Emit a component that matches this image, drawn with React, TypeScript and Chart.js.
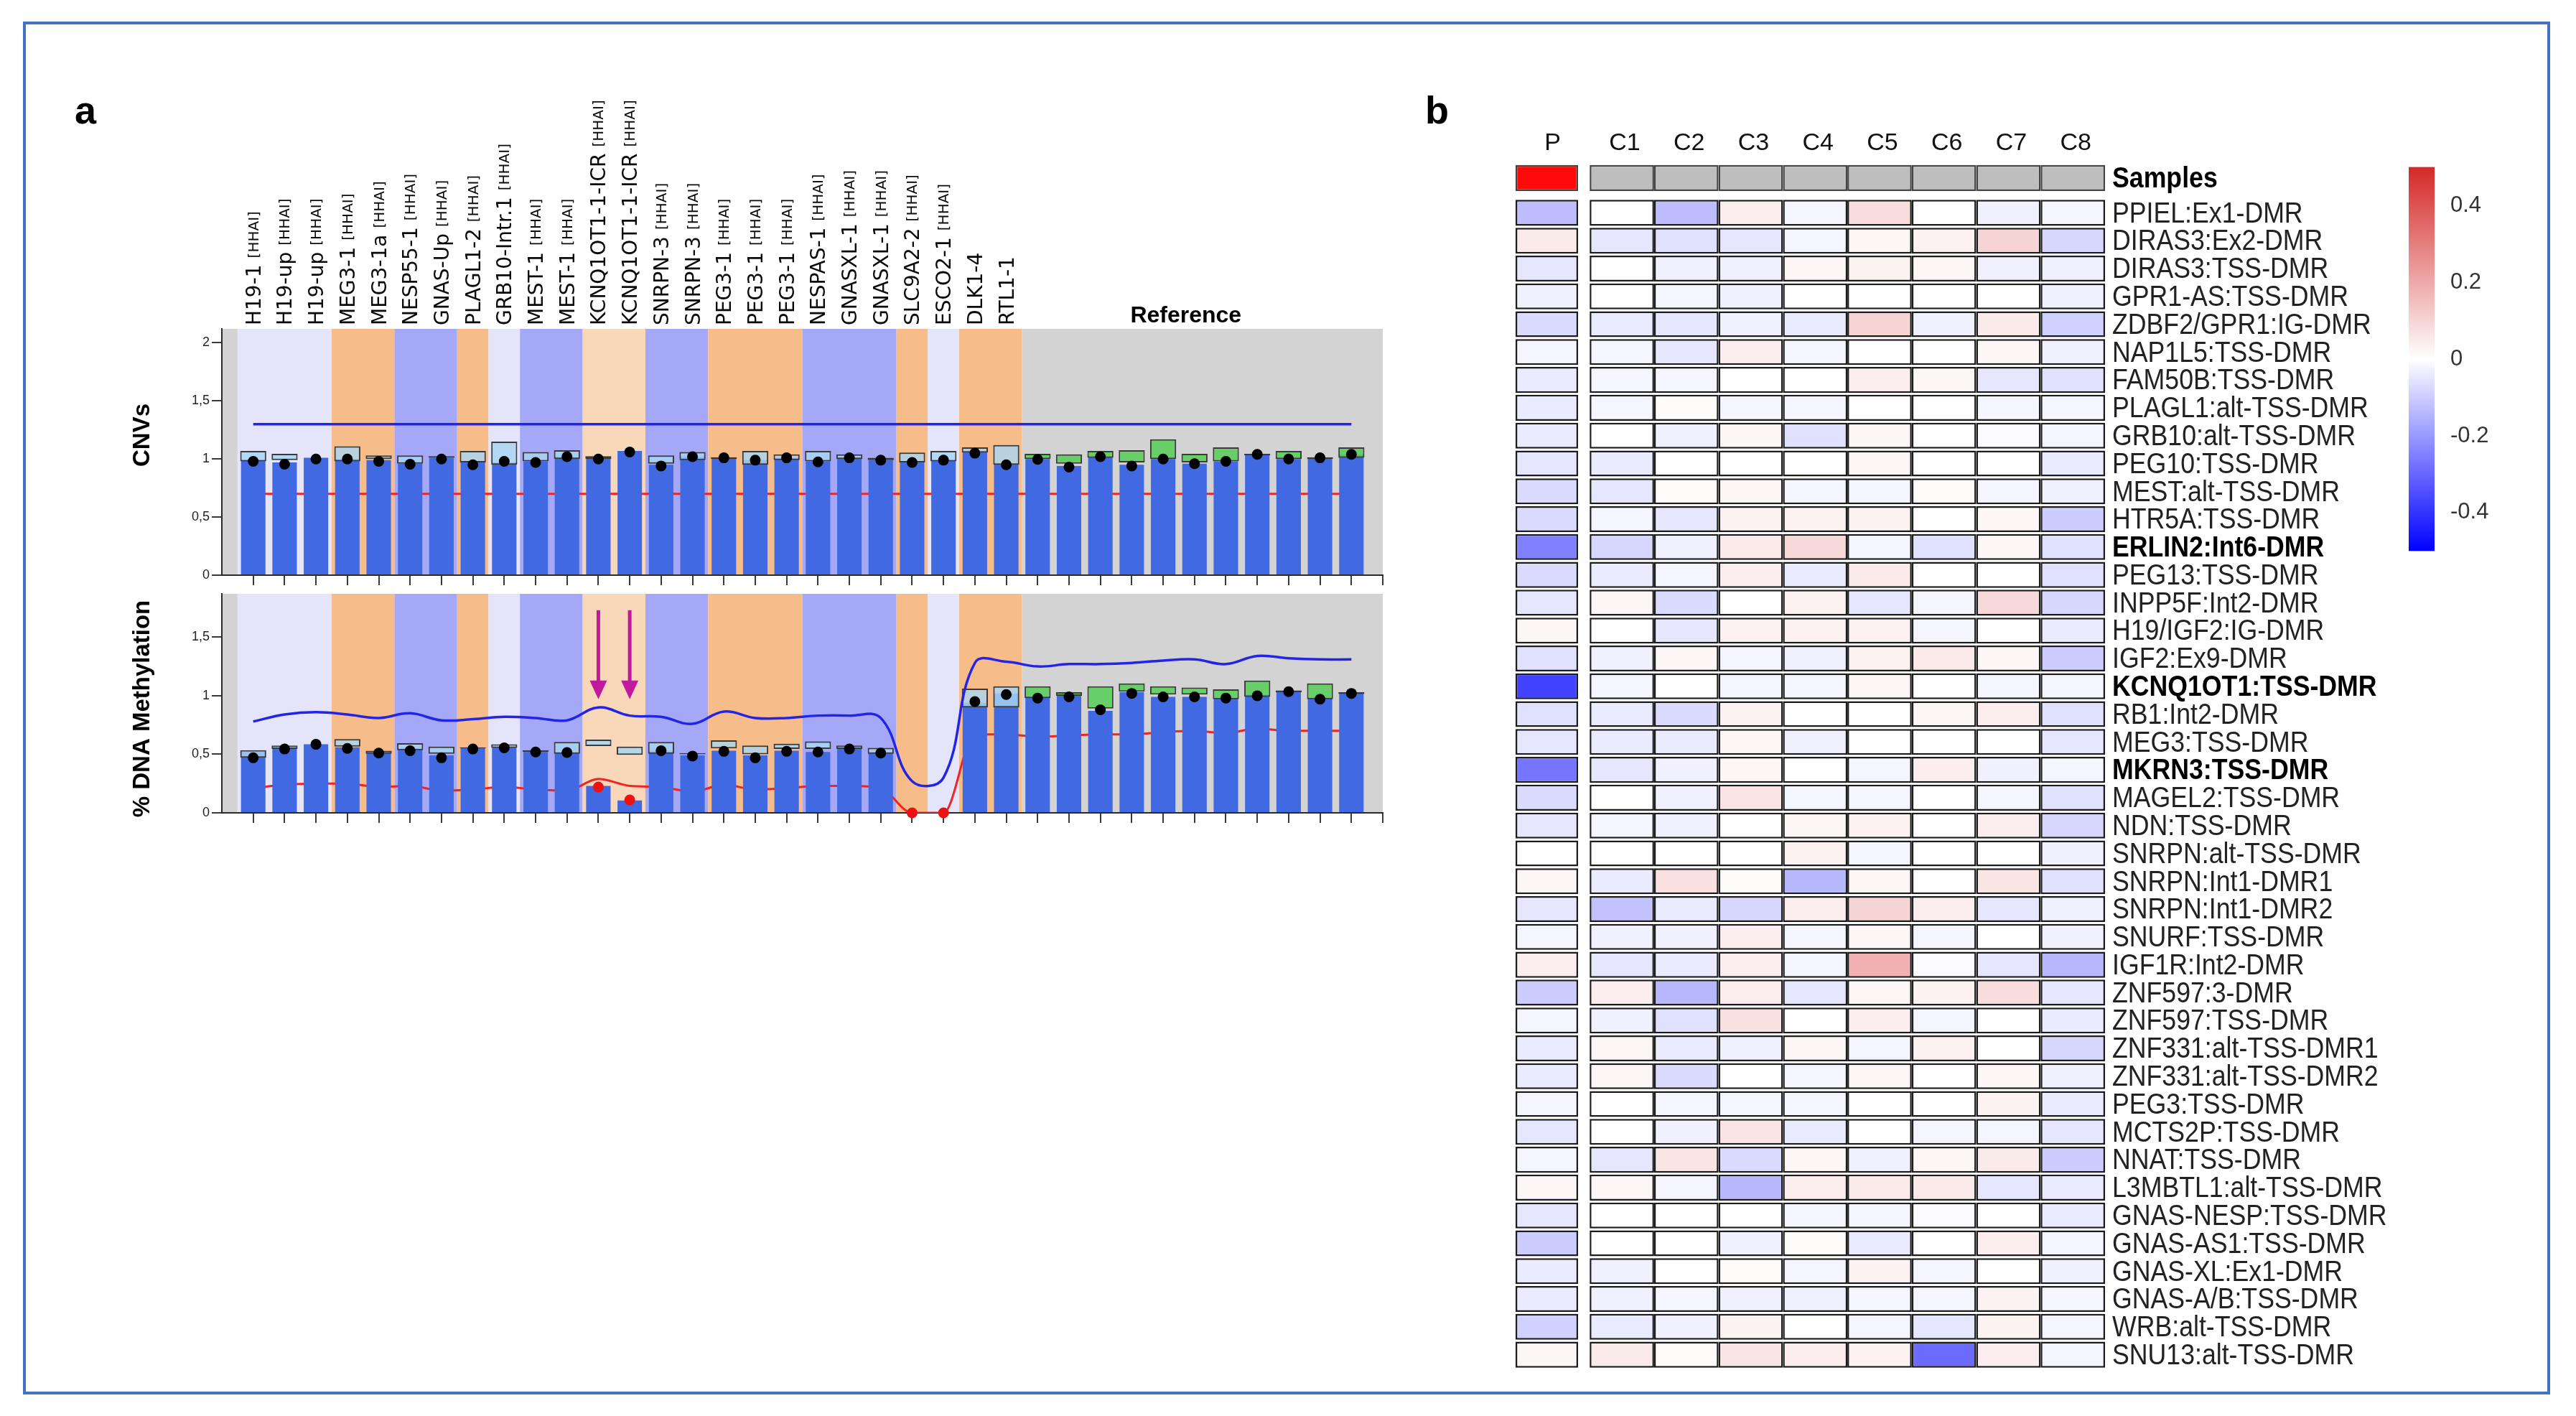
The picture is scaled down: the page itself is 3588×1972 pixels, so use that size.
import React, { useEffect, useRef } from 'react';
import { Chart, registerables } from 'chart.js';

Chart.register(...registerables);

const FONT = '"Liberation Sans", Arial, Helvetica, sans-serif';
const LABEL_FONT = '"DejaVu Sans", Verdana, sans-serif';

// ---------------- Panel a : probes ----------------
const probeLabels = [
  'H19-1', 'H19-up', 'H19-up', 'MEG3-1', 'MEG3-1a', 'NESP55-1', 'GNAS-Up', 'PLAGL1-2',
  'GRB10-Intr.1', 'MEST-1', 'MEST-1', 'KCNQ1OT1-1-ICR', 'KCNQ1OT1-1-ICR', 'SNRPN-3', 'SNRPN-3',
  'PEG3-1', 'PEG3-1', 'PEG3-1', 'NESPAS-1', 'GNASXL-1', 'GNASXL-1', 'SLC9A2-2', 'ESCO2-1',
  'DLK1-4', 'RTL1-1',
];
const probeHasHhai = [
  true, true, true, true, true, true, true, true, true, true, true, true, true, true, true,
  true, true, true, true, true, true, true, true, false, false,
];
const referenceProbeCount = 11;
const probeCount = probeLabels.length + referenceProbeCount;

// background bands (probe-index ranges) and their kind
const bandStart = [-1, -0.5, 2.5, 4.5, 6.5, 7.5, 8.5, 10.5, 12.5, 14.5, 17.5, 20.5, 21.5, 22.5, 24.5];
const bandEnd = [-0.5, 2.5, 4.5, 6.5, 7.5, 8.5, 10.5, 12.5, 14.5, 17.5, 20.5, 21.5, 22.5, 24.5, 36];
const bandKind = ['ref', 'lav', 'ora', 'blu', 'ora', 'lav', 'blu', 'pea', 'blu', 'ora', 'blu', 'ora', 'lav', 'ora', 'ref'];
const bandColors: Record<string, string> = {
  ref: '#d3d3d3', lav: '#e4e4fb', ora: '#f6bd8a', blu: '#a5a8f6', pea: '#f9d8b9',
};

// CNV panel
const cnvTicks = [0, 0.5, 1, 1.5, 2];
const CNV_MAX = 2.12;
const CNV_UPPER = 1.3;
const CNV_LOWER = 0.7;
const cnvRatio = [0.99, 0.97, 1.01, 1.0, 0.99, 0.96, 1.01, 0.97, 0.97, 0.98, 1.02, 1.01, 1.07, 0.95, 1.02, 1.01, 0.99, 1.01, 0.98, 1.01, 0.99, 0.98, 0.99, 1.06, 0.96, 1.0, 0.94, 1.02, 0.95, 1.0, 0.96, 0.98, 1.04, 1.0, 1.01, 1.04];
const cnvDot = [0.98, 0.955, 1.0, 1.0, 0.98, 0.955, 1.0, 0.95, 0.98, 0.97, 1.02, 1.0, 1.06, 0.94, 1.02, 1.01, 0.99, 1.01, 0.975, 1.01, 0.99, 0.97, 0.99, 1.05, 0.95, 0.997, 0.93, 1.02, 0.94, 1.0, 0.96, 0.98, 1.04, 1.0, 1.01, 1.04];
const cnvBoxLow = [0.98, 0.99, null, 0.98, 1.0, 0.96, 1.01, 0.97, 0.95, 0.98, 1.0, 1.0, null, 0.96, 0.99, 1.0, 0.95, 0.99, 0.98, 1.0, 0.99, 0.97, 0.98, 1.055, 0.95, 1.0, 0.96, 1.01, 0.97, 1.0, 0.97, 0.98, 1.03, 1.0, 1.0, 1.01];
const cnvBoxHigh = [1.07, 1.045, null, 1.11, 1.03, 1.03, 1.025, 1.07, 1.15, 1.06, 1.075, 1.025, null, 1.03, 1.06, 1.015, 1.07, 1.04, 1.07, 1.04, 1.01, 1.055, 1.07, 1.1, 1.12, 1.045, 1.04, 1.07, 1.075, 1.17, 1.045, 1.1, 1.045, 1.07, 1.015, 1.1];

// Methylation panel
const methTicks = [0, 0.5, 1, 1.5];
const METH_MAX = 1.87;
const methRatio = [0.52, 0.56, 0.585, 0.56, 0.51, 0.54, 0.49, 0.555, 0.56, 0.52, 0.51, 0.23, 0.105, 0.53, 0.49, 0.53, 0.49, 0.53, 0.52, 0.55, 0.51, null, null, 0.94, 1.02, 0.99, 1.0, 0.87, 1.03, 0.99, 0.99, 0.98, 1.01, 1.04, 0.98, 1.02];
const methDot = [0.47, 0.545, 0.585, 0.55, 0.51, 0.53, 0.47, 0.545, 0.555, 0.52, 0.515, 0.22, 0.11, 0.53, 0.485, 0.525, 0.47, 0.525, 0.52, 0.545, 0.51, 0, 0, 0.95, 1.01, 0.98, 0.99, 0.88, 1.02, 0.99, 0.99, 0.98, 1.0, 1.035, 0.97, 1.02];
const methBoxLow = [0.47, 0.545, null, 0.565, 0.505, 0.535, 0.505, 0.55, 0.555, 0.52, 0.505, 0.57, 0.495, 0.505, 0.5, 0.55, 0.5, 0.545, 0.545, 0.545, 0.505, null, null, 0.9, 0.9, 0.98, 1.0, 0.89, 1.035, 1.01, 1.01, 0.97, 0.99, 1.03, 0.97, 1.015];
const methBoxHigh = [0.535, 0.575, null, 0.63, 0.53, 0.595, 0.565, 0.56, 0.585, 0.535, 0.605, 0.625, 0.565, 0.605, 0.51, 0.62, 0.575, 0.59, 0.61, 0.575, 0.555, null, null, 1.06, 1.08, 1.08, 1.03, 1.08, 1.105, 1.08, 1.07, 1.055, 1.13, 1.045, 1.105, 1.03];
const methUpper = [0.78, 0.84, 0.86, 0.84, 0.81, 0.85, 0.79, 0.8, 0.82, 0.81, 0.79, 0.9, 0.83, 0.82, 0.76, 0.865, 0.81, 0.81, 0.83, 0.83, 0.81, 0.27, 0.3, 1.28, 1.29, 1.25, 1.27, 1.27, 1.28, 1.3, 1.31, 1.27, 1.34, 1.32, 1.31, 1.31];
const methLower = [0.21, 0.24, 0.25, 0.25, 0.22, 0.23, 0.19, 0.2, 0.22, 0.2, 0.19, 0.29, 0.23, 0.22, 0.18, 0.24, 0.2, 0.21, 0.23, 0.23, 0.21, 0, 0, 0.67, 0.67, 0.65, 0.66, 0.67, 0.67, 0.69, 0.7, 0.68, 0.72, 0.7, 0.7, 0.7];
const methAbnormal = [11, 12, 21, 22];
const arrowProbes = [11, 12];
const ARROW_FROM = 1.73;
const ARROW_TO = 0.97;

// ---------------- Panel b : heatmap ----------------
const sampleNames = ['P', 'C1', 'C2', 'C3', 'C4', 'C5', 'C6', 'C7', 'C8'];
const sampleGroups = ['patient', 'control', 'control', 'control', 'control', 'control', 'control', 'control', 'control'];
const dmrLabels = [
  'PPIEL:Ex1-DMR', 'DIRAS3:Ex2-DMR', 'DIRAS3:TSS-DMR', 'GPR1-AS:TSS-DMR', 'ZDBF2/GPR1:IG-DMR',
  'NAP1L5:TSS-DMR', 'FAM50B:TSS-DMR', 'PLAGL1:alt-TSS-DMR', 'GRB10:alt-TSS-DMR', 'PEG10:TSS-DMR',
  'MEST:alt-TSS-DMR', 'HTR5A:TSS-DMR', 'ERLIN2:Int6-DMR', 'PEG13:TSS-DMR', 'INPP5F:Int2-DMR',
  'H19/IGF2:IG-DMR', 'IGF2:Ex9-DMR', 'KCNQ1OT1:TSS-DMR', 'RB1:Int2-DMR', 'MEG3:TSS-DMR',
  'MKRN3:TSS-DMR', 'MAGEL2:TSS-DMR', 'NDN:TSS-DMR', 'SNRPN:alt-TSS-DMR', 'SNRPN:Int1-DMR1',
  'SNRPN:Int1-DMR2', 'SNURF:TSS-DMR', 'IGF1R:Int2-DMR', 'ZNF597:3-DMR', 'ZNF597:TSS-DMR',
  'ZNF331:alt-TSS-DMR1', 'ZNF331:alt-TSS-DMR2', 'PEG3:TSS-DMR', 'MCTS2P:TSS-DMR', 'NNAT:TSS-DMR',
  'L3MBTL1:alt-TSS-DMR', 'GNAS-NESP:TSS-DMR', 'GNAS-AS1:TSS-DMR', 'GNAS-XL:Ex1-DMR', 'GNAS-A/B:TSS-DMR',
  'WRB:alt-TSS-DMR', 'SNU13:alt-TSS-DMR',
];
const boldDmrs = ['ERLIN2:Int6-DMR', 'KCNQ1OT1:TSS-DMR', 'MKRN3:TSS-DMR'];

const heatP = [-0.13, 0.05, -0.05, -0.03, -0.07, -0.02, -0.04, -0.04, -0.04, -0.05, -0.07, -0.07, -0.25, -0.07, -0.05, 0.02, -0.06, -0.37, -0.06, -0.05, -0.27, -0.07, -0.05, 0, 0.02, -0.05, -0.02, 0.04, -0.1, -0.02, -0.04, -0.04, -0.02, -0.05, -0.02, 0.02, -0.05, -0.1, -0.04, -0.04, -0.09, 0.02];
const heatC1 = [0, -0.05, 0, 0, -0.04, -0.02, -0.02, -0.02, 0, -0.04, -0.05, -0.02, -0.08, -0.04, 0.02, 0, -0.03, -0.02, -0.04, -0.04, -0.05, 0, -0.02, 0, -0.04, -0.12, -0.03, -0.05, 0.04, -0.03, 0.02, 0.02, 0, 0, -0.05, 0.02, 0, 0, -0.03, -0.03, -0.04, 0.05];
const heatC2 = [-0.13, -0.06, -0.03, -0.02, -0.05, -0.05, -0.02, 0.01, -0.03, 0, 0.01, -0.05, -0.03, -0.02, -0.07, -0.05, 0.02, 0, -0.07, -0.04, -0.03, -0.03, -0.03, 0, 0.07, -0.04, -0.03, -0.04, -0.14, -0.06, -0.04, -0.07, -0.02, -0.03, 0.06, -0.02, 0, 0, 0, -0.02, -0.03, 0.01];
const heatC3 = [0.04, -0.05, -0.03, -0.03, -0.03, 0.04, 0, -0.02, 0.02, 0, 0.02, 0.03, 0.05, 0.04, 0, 0.03, -0.02, -0.02, 0.03, 0.02, 0.02, 0.06, 0, 0, 0.01, -0.08, 0.04, 0.04, 0.04, 0.07, -0.03, 0, -0.02, 0.06, -0.07, -0.14, 0, -0.03, 0.01, -0.03, 0.03, 0.06];
const heatC4 = [-0.02, -0.02, 0.02, 0, -0.04, -0.02, 0, -0.02, -0.06, 0, -0.02, 0.03, 0.09, -0.04, 0.03, 0.03, -0.03, -0.02, 0, -0.03, 0, -0.02, 0.02, 0.03, -0.14, 0.04, -0.02, -0.02, -0.05, 0, 0.02, -0.02, -0.02, -0.04, 0.02, 0.04, -0.02, 0.01, -0.02, -0.03, 0, 0.04];
const heatC5 = [0.08, 0.02, 0.03, 0, 0.1, 0, 0.04, 0, 0.02, 0.02, -0.02, 0.03, -0.02, 0.05, -0.05, 0.03, 0.03, 0.02, 0, 0, -0.02, -0.02, 0.03, -0.02, 0.02, 0.1, 0.02, 0.18, 0.02, 0.04, -0.02, 0.02, 0, 0, -0.03, 0.05, -0.02, -0.04, 0.03, -0.02, -0.02, 0.03];
const heatC6 = [0, 0.03, 0.02, 0, -0.03, 0, 0.02, 0, 0, 0, 0.01, 0, -0.06, 0, -0.02, -0.02, 0.05, 0, 0.02, 0, 0.04, 0, 0, 0, 0, 0.04, -0.02, -0.01, 0.03, -0.02, 0.03, 0, 0, -0.02, 0.02, 0.05, -0.01, 0, -0.02, -0.02, -0.05, -0.29];
const heatC7 = [-0.03, 0.1, -0.03, 0, 0.05, 0.02, -0.05, -0.02, -0.01, 0, -0.02, 0.02, 0.02, 0, 0.09, 0, 0.02, -0.02, 0.04, 0, -0.03, -0.02, 0.04, 0, 0.06, -0.05, 0, -0.05, 0.08, 0, 0, 0.02, 0.03, -0.02, 0.05, -0.05, 0, 0.04, 0, 0.03, 0.03, 0.04];
const heatC8 = [-0.02, -0.08, -0.03, -0.03, -0.09, -0.03, -0.06, -0.02, -0.02, -0.04, -0.03, -0.1, -0.06, -0.06, -0.08, -0.04, -0.1, -0.02, -0.06, -0.05, -0.02, -0.06, -0.08, -0.03, -0.06, -0.03, -0.03, -0.14, -0.05, -0.04, -0.08, -0.03, -0.04, -0.05, -0.1, -0.04, -0.04, -0.02, -0.03, -0.02, -0.02, -0.02];
const heatColumns = [heatP, heatC1, heatC2, heatC3, heatC4, heatC5, heatC6, heatC7, heatC8];

const colorbarTicks = [-0.4, -0.2, 0, 0.2, 0.4];
const HEAT_MIN = -0.5;
const HEAT_MAX = 0.5;
const LOW_RGB = [0, 0, 255];
const MID_RGB = [255, 255, 255];
const HIGH_RGB = [212, 40, 40];

// ---------------- styles ----------------
const BAR_BLUE = '#4169e1';
const BOX_TEST = 'rgba(168, 214, 240, 0.82)';
const BOX_REF = 'rgba(92, 206, 92, 0.9)';
const LINE_BLUE = '#2424e6';
const LINE_RED = '#f02424';
const ARROW_COLOR = '#c2189c';
const SAMPLE_ROW = -1.25;
const P_LEFT = -1.15;
const P_RIGHT = -0.18;

function heatColor(v: number) {
  const t = Math.max(-1, Math.min(1, v / HEAT_MAX));
  const end = t < 0 ? LOW_RGB : HIGH_RGB;
  const a = Math.abs(t);
  const c = MID_RGB.map((m, i) => Math.round(m + (end[i] - m) * a));
  return `rgb(${c[0]},${c[1]},${c[2]})`;
}
function rgb(a: number[]) {
  return `rgb(${a[0]},${a[1]},${a[2]})`;
}
function columnSpan(k: number) {
  return k === 0 ? [P_LEFT, P_RIGHT] : [k - 1, k];
}
function probePoints(values: (number | null)[]) {
  const out: any[] = [];
  values.forEach((v, i) => {
    if (v !== null) out.push({ x: i, y: v });
  });
  return out;
}
function rangePoints(lo: (number | null)[], hi: (number | null)[]) {
  const out: any[] = [];
  lo.forEach((l, i) => {
    if (l !== null && hi[i] !== null) out.push({ x: i, y: [l, hi[i]], ref: i >= probeLabels.length });
  });
  return out;
}
const probeTickValues = Array.from({ length: probeCount + 1 }, (_, i) => i);
const commaFmt = (v: any) => String(v).replace('.', ',');

function probeScales(yMax: number, yTicks: number[]) {
  return {
    x: {
      type: 'linear',
      min: -1,
      max: probeCount,
      offset: false,
      afterBuildTicks: (s: any) => {
        s.ticks = probeTickValues.map((v) => ({ value: v }));
      },
      afterFit: (s: any) => {
        s.height = 20;
      },
      ticks: { display: false },
      grid: { offset: false, drawOnChartArea: false, drawTicks: true, tickLength: 14, color: '#3a3a3a', lineWidth: 2 },
      border: { display: true, color: '#2a2a2a', width: 2 },
    },
    y: {
      type: 'linear',
      min: 0,
      max: yMax,
      afterBuildTicks: (s: any) => {
        s.ticks = yTicks.map((v) => ({ value: v }));
      },
      afterFit: (s: any) => {
        s.width = 60;
      },
      ticks: { callback: commaFmt, font: { family: FONT, size: 18 }, color: '#222', padding: 3 },
      grid: { drawOnChartArea: false, drawTicks: true, tickLength: 14, color: '#3a3a3a', lineWidth: 2 },
      border: { display: true, color: '#2a2a2a', width: 2 },
    },
  };
}

const bandsPlugin = {
  id: 'bands',
  beforeDraw(chart: any) {
    const { ctx, chartArea, scales } = chart;
    ctx.save();
    bandStart.forEach((s, i) => {
      const x0 = scales.x.getPixelForValue(s);
      const x1 = scales.x.getPixelForValue(bandEnd[i]);
      ctx.fillStyle = bandColors[bandKind[i]];
      ctx.fillRect(x0, chartArea.top, x1 - x0, chartArea.bottom - chartArea.top);
    });
    ctx.restore();
  },
};

function drawVerticalTitle(ctx: any, text: string, x: number, y: number) {
  ctx.save();
  ctx.translate(x, y);
  ctx.rotate(-Math.PI / 2);
  ctx.font = `bold 33px ${FONT}`;
  ctx.fillStyle = '#000';
  ctx.textAlign = 'center';
  ctx.textBaseline = 'middle';
  ctx.fillText(text, 0, 0);
  ctx.restore();
}

const cnvDecorPlugin = {
  id: 'cnvDecor',
  afterDraw(chart: any) {
    const { ctx, chartArea, scales } = chart;
    ctx.save();
    ctx.fillStyle = '#0a0a0a';
    probeLabels.forEach((lab, i) => {
      const px = scales.x.getPixelForValue(i);
      ctx.save();
      ctx.translate(px, chartArea.top - 5);
      ctx.rotate(-Math.PI / 2);
      ctx.textAlign = 'left';
      ctx.textBaseline = 'alphabetic';
      ctx.font = `28px ${LABEL_FONT}`;
      ctx.fillText(lab, 0, 10);
      if (probeHasHhai[i]) {
        const w = ctx.measureText(lab).width;
        ctx.font = `20px ${LABEL_FONT}`;
        ctx.fillText('[HHAI]', w + 9, 7);
      }
      ctx.restore();
    });
    const refCenter = (probeLabels.length + probeCount - 1) / 2;
    ctx.font = `bold 32px ${FONT}`;
    ctx.fillStyle = '#000';
    ctx.textAlign = 'center';
    ctx.textBaseline = 'alphabetic';
    ctx.fillText('Reference', scales.x.getPixelForValue(refCenter) - 12, chartArea.top - 9);
    ctx.restore();
    drawVerticalTitle(ctx, 'CNVs', 49, 486);
  },
};

const methDecorPlugin = {
  id: 'methDecor',
  afterDatasetsDraw(chart: any) {
    const { ctx, scales } = chart;
    ctx.save();
    ctx.fillStyle = ARROW_COLOR;
    ctx.strokeStyle = ARROW_COLOR;
    ctx.lineWidth = 5;
    arrowProbes.forEach((p) => {
      const x = scales.x.getPixelForValue(p);
      const y0 = scales.y.getPixelForValue(ARROW_FROM);
      const y1 = scales.y.getPixelForValue(ARROW_TO);
      const head = 26;
      ctx.beginPath();
      ctx.moveTo(x, y0);
      ctx.lineTo(x, y1 - head + 2);
      ctx.stroke();
      ctx.beginPath();
      ctx.moveTo(x - 12, y1 - head);
      ctx.lineTo(x + 12, y1 - head);
      ctx.lineTo(x, y1);
      ctx.closePath();
      ctx.fill();
    });
    ctx.restore();
  },
  afterDraw(chart: any) {
    drawVerticalTitle(chart.ctx, '% DNA Methylation', 49, 177);
  },
};

const commonOptions = {
  responsive: false,
  animation: false,
  events: [],
  plugins: { legend: { display: false }, tooltip: { enabled: false } },
};

function probeDatasets(ratio: any[], dot: any[], lo: any[], hi: any[], lower: any, upper: any, isMeth: boolean) {
  return [
    {
      type: 'line',
      label: 'lower limit',
      data: lower,
      borderColor: LINE_RED,
      borderWidth: 3,
      pointRadius: 0,
      cubicInterpolationMode: 'monotone',
      order: 6,
    },
    {
      type: 'bar',
      label: 'ratio',
      data: probePoints(ratio),
      backgroundColor: BAR_BLUE,
      borderWidth: 0,
      grouped: false,
      categoryPercentage: 1,
      barPercentage: 0.78,
      order: 5,
    },
    {
      type: 'bar',
      label: 'reference range',
      data: rangePoints(lo, hi),
      backgroundColor: (c: any) => (c.raw && c.raw.ref ? BOX_REF : BOX_TEST),
      borderColor: '#3a3a3a',
      borderWidth: 2,
      borderSkipped: false,
      grouped: false,
      categoryPercentage: 1,
      barPercentage: 0.83,
      order: 4,
    },
    {
      type: 'line',
      label: 'upper limit',
      data: upper,
      borderColor: LINE_BLUE,
      borderWidth: 3.5,
      pointRadius: 0,
      tension: 0.4,
      order: 3,
    },
    {
      type: 'line',
      label: 'sample',
      data: probePoints(dot),
      showLine: false,
      pointRadius: 7.5,
      pointBorderWidth: 0,
      pointBackgroundColor: (c: any) => (isMeth && methAbnormal.includes(c.dataIndex) ? '#ee1111' : '#000'),
      clip: false,
      order: 2,
    },
  ];
}

function cnvConfig() {
  return {
    type: 'bar',
    data: {
      datasets: probeDatasets(
        cnvRatio, cnvDot, cnvBoxLow, cnvBoxHigh,
        [{ x: 0, y: CNV_LOWER }, { x: probeCount - 1, y: CNV_LOWER }],
        [{ x: 0, y: CNV_UPPER }, { x: probeCount - 1, y: CNV_UPPER }],
        false,
      ),
    },
    options: {
      ...commonOptions,
      layout: { padding: { left: 99, right: 24, top: 338, bottom: 19 } },
      scales: probeScales(CNV_MAX, cnvTicks),
    },
    plugins: [bandsPlugin, cnvDecorPlugin],
  };
}

function methConfig() {
  return {
    type: 'bar',
    data: {
      datasets: probeDatasets(
        methRatio, methDot, methBoxLow, methBoxHigh,
        probePoints(methLower), probePoints(methUpper), true,
      ),
    },
    options: {
      ...commonOptions,
      layout: { padding: { left: 99, right: 24, top: 17, bottom: 28 } },
      scales: probeScales(METH_MAX, methTicks),
    },
    plugins: [bandsPlugin, methDecorPlugin],
  };
}

const heatDecorPlugin = {
  id: 'heatDecor',
  afterDraw(chart: any) {
    const { ctx, chartArea, scales } = chart;
    const xs = scales.x;
    const ys = scales.y;
    ctx.save();
    ctx.fillStyle = '#111';
    ctx.textAlign = 'center';
    ctx.textBaseline = 'middle';
    ctx.font = `34px ${FONT}`;
    sampleNames.forEach((n, k) => {
      const span = columnSpan(k);
      const cx = (xs.getPixelForValue(span[0]) + xs.getPixelForValue(span[1])) / 2;
      ctx.fillText(n, cx + (k === 0 ? 8 : 4), ys.getPixelForValue(SAMPLE_ROW - 1.24));
    });
    const lx = chartArea.right + 10;
    const drawLabel = (text: string, y: number, bold: boolean) => {
      ctx.save();
      ctx.translate(lx, y);
      ctx.scale(0.87, 1);
      ctx.font = `${bold ? 'bold ' : ''}41px ${FONT}`;
      ctx.textAlign = 'left';
      ctx.textBaseline = 'middle';
      ctx.fillStyle = bold ? '#000' : '#222';
      ctx.fillText(text, 0, 2);
      ctx.restore();
    };
    drawLabel('Samples', ys.getPixelForValue(SAMPLE_ROW), true);
    dmrLabels.forEach((lab, i) => {
      drawLabel(lab, ys.getPixelForValue(i), boldDmrs.includes(lab));
    });
    ctx.restore();
  },
};

function heatmapConfig() {
  const datasets: any[] = heatColumns.map((vals, k) => ({
    label: sampleNames[k],
    data: vals.map((_, i) => ({ x: columnSpan(k), y: i })),
    backgroundColor: vals.map(heatColor),
    borderColor: '#1c1c1c',
    borderWidth: 2.5,
    borderSkipped: false,
    grouped: false,
    barPercentage: 1,
    categoryPercentage: 0.93,
  }));
  datasets.push({
    label: 'Samples',
    data: sampleNames.map((_, k) => ({ x: columnSpan(k), y: SAMPLE_ROW })),
    backgroundColor: sampleGroups.map((g) => (g === 'patient' ? '#ff0a0a' : '#bebebe')),
    borderColor: '#444',
    borderWidth: 2.5,
    borderSkipped: false,
    grouped: false,
    barPercentage: 1,
    categoryPercentage: 0.93,
  });
  return {
    type: 'bar',
    data: { datasets },
    options: {
      ...commonOptions,
      indexAxis: 'y',
      layout: { padding: { left: 61, right: 408, top: 88.5, bottom: 44 } },
      scales: {
        x: { type: 'linear', min: P_LEFT, max: heatColumns.length - 1, display: false, offset: false },
        y: {
          type: 'linear', min: -1.75, max: dmrLabels.length - 0.5, reverse: true, display: false,
          offset: false, grid: { offset: false }, ticks: { stepSize: 10 },
        },
      },
    },
    plugins: [heatDecorPlugin],
  };
}

function colorbarConfig() {
  return {
    type: 'bar',
    data: {
      labels: ['scale'],
      datasets: [
        {
          label: 'colour scale',
          data: [[HEAT_MIN, HEAT_MAX]],
          backgroundColor: (c: any) => {
            const ca = c.chart.chartArea;
            if (!ca) return '#fff';
            const g = c.chart.ctx.createLinearGradient(0, ca.bottom, 0, ca.top);
            g.addColorStop(0, rgb(LOW_RGB));
            g.addColorStop(0.5, rgb(MID_RGB));
            g.addColorStop(1, rgb(HIGH_RGB));
            return g;
          },
          borderWidth: 0,
          barPercentage: 1,
          categoryPercentage: 1,
        },
      ],
    },
    options: {
      ...commonOptions,
      layout: { padding: { left: 25, right: 0, top: 28, bottom: 27 } },
      scales: {
        x: { display: false },
        y: {
          position: 'right',
          min: HEAT_MIN,
          max: HEAT_MAX,
          afterBuildTicks: (s: any) => {
            s.ticks = colorbarTicks.map((v) => ({ value: v }));
          },
          afterFit: (s: any) => {
            s.width = 80;
          },
          grid: { display: false },
          border: { display: false },
          ticks: {
            padding: 14,
            font: { family: FONT, size: 31 },
            color: '#333',
            callback: (v: any) => (Math.abs(v) < 1e-9 ? '0' : Number(v).toFixed(1)),
          },
        },
      },
    },
  };
}

function ChartBox({ make, left, top, width, height }: any) {
  const ref = useRef<HTMLCanvasElement>(null);
  useEffect(() => {
    const chart = new Chart(ref.current as any, make());
    return () => chart.destroy();
  }, []);
  return (
    <div style={{ position: 'absolute', left, top, width, height }}>
      <canvas ref={ref} width={width} height={height} style={{ width, height, display: 'block' }} />
    </div>
  );
}

export default function App() {
  const letter = {
    position: 'absolute' as const,
    top: 126,
    font: `bold 54px ${FONT}`,
    lineHeight: '54px',
    color: '#000',
  };
  return (
    <div style={{ position: 'absolute', left: 0, top: 0, width: 3588, height: 1972, background: '#fff', overflow: 'hidden' }}>
      <div style={{ position: 'absolute', left: 32, top: 30, width: 3520, height: 1912, border: '4px solid #4472c4', boxSizing: 'border-box' }} />
      <div style={{ ...letter, left: 104 }}>a</div>
      <div style={{ ...letter, left: 1985 }}>b</div>
      <ChartBox make={cnvConfig} left={150} top={120} width={1800} height={720} />
      <ChartBox make={methConfig} left={150} top={810} width={1800} height={370} />
      <ChartBox make={heatmapConfig} left={2050} top={140} width={1290} height={1810} />
      <ChartBox make={colorbarConfig} left={3330} top={200} width={141} height={600} />
    </div>
  );
}
